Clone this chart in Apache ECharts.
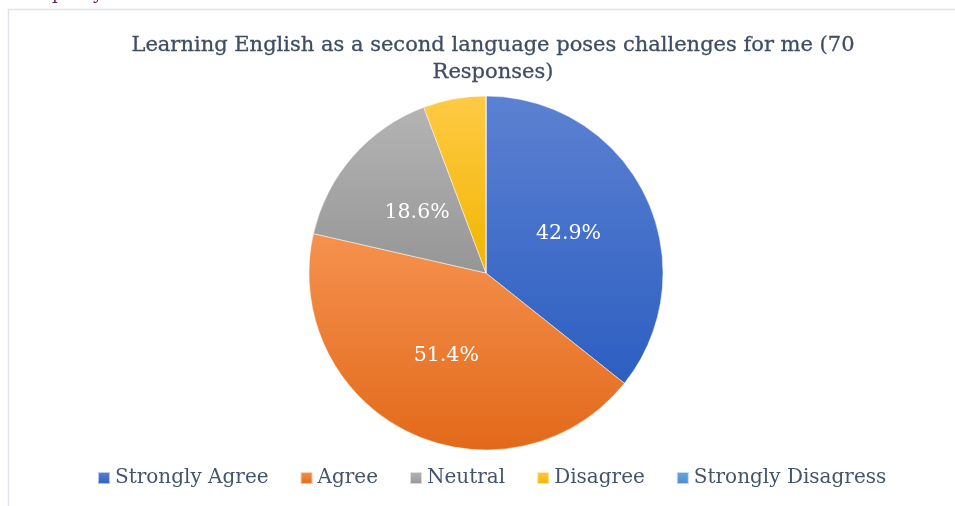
<!DOCTYPE html>
<html>
<head>
<meta charset="utf-8">
<script src="https://cdn.jsdelivr.net/npm/echarts@6/dist/echarts.min.js"></script>
<style>
html,body{margin:0;padding:0;background:#fff;}
#main{width:955px;height:506px;}
</style>
</head>
<body>
<div id="main"></div>
<script>
const chartTitle = 'Learning English as a second language poses challenges for me (70\nResponses)';
const categories = ['Strongly Agree', 'Agree', 'Neutral', 'Disagree', 'Strongly Disagress'];
const responses = [25, 30, 11, 4, 0];
const labelTexts = ['42.9%', '51.4%', '18.6%', '', ''];
const colorTops = ['#5c81d2', '#f5924f', '#b4b4b4', '#ffca45', '#6ea6dc'];
const colorBottoms = ['#2c5ec1', '#e2691a', '#969696', '#f1b500', '#4a8bcc'];

function grad(i) {
  return new echarts.graphic.LinearGradient(0, 0, 0, 1, [
    { offset: 0, color: colorTops[i] },
    { offset: 1, color: colorBottoms[i] }
  ]);
}

const chart = echarts.init(document.getElementById('main'), null, { renderer: 'canvas' });
const FONT = '"DejaVu Serif", serif';

chart.setOption({
  animation: false,
  backgroundColor: '#ffffff',
  graphic: [
    {
      type: 'rect',
      shape: { x: 8.5, y: 9.5, width: 1000, height: 600 },
      style: { fill: 'none', stroke: '#dfe4ea', lineWidth: 1.5 },
      silent: true
    },
    {
      type: 'text',
      left: 52, top: -15,
      style: { text: 'p', font: '18px "DejaVu Serif"', fill: '#6b1d5e' },
      silent: true
    },
    {
      type: 'text',
      left: 93, top: -15,
      style: { text: 'y', font: '18px "DejaVu Serif"', fill: '#6b1d5e' },
      silent: true
    }
  ],
  title: {
    text: chartTitle,
    left: 488,
    textAlign: 'center',
    top: 27,
    textStyle: {
      fontFamily: FONT,
      fontSize: 21,
      fontWeight: 'normal',
      color: '#3e4d63',
      lineHeight: 27,
      textBorderColor: '#3e4d63',
      textBorderWidth: 0.3
    }
  },
  legend: {
    bottom: 13,
    left: 92,
    itemWidth: 12,
    itemHeight: 12,
    itemGap: 31,
    icon: 'rect',
    textStyle: {
      fontFamily: FONT,
      fontSize: 20,
      color: '#44546a',
      padding: [0, 0, 0, 0]
    },
    data: categories
  },
  series: [
    {
      type: 'pie',
      center: [486, 273],
      radius: 177,
      startAngle: 90,
      clockwise: true,
      stillShowZeroSum: true,
      avoidLabelOverlap: false,
      itemStyle: { borderColor: 'rgba(255,255,255,0.6)', borderWidth: 0.8 },
      label: {
        show: true,
        position: 'inside',
        formatter: p => labelTexts[p.dataIndex],
        color: '#ffffff',
        fontFamily: FONT,
        fontSize: 20.5,
        fontWeight: 'normal'
      },
      labelLine: { show: false },
      emphasis: { disabled: true },
      data: categories.map((c, i) => ({
        name: c,
        value: responses[i],
        itemStyle: { color: grad(i) }
      }))
    }
  ]
});
</script>
</body>
</html>
